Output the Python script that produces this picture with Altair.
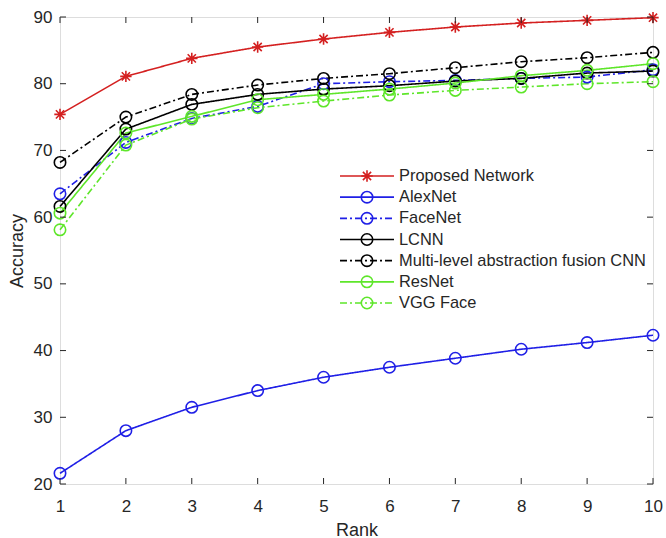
import altair as alt
import pandas as pd

ranks = [1, 2, 3, 4, 5, 6, 7, 8, 9, 10]
series = ["Proposed Network", "AlexNet", "FaceNet", "LCNN",
          "Multi-level abstraction fusion CNN", "ResNet", "VGG Face"]
proposed = [75.4, 81.1, 83.8, 85.5, 86.7, 87.7, 88.5, 89.1, 89.5, 89.9]
alexnet = [21.6, 28.0, 31.5, 34.0, 36.0, 37.5, 38.85, 40.2, 41.2, 42.3]
facenet = [63.5, 71.2, 74.8, 76.6, 80.0, 80.3, 80.5, 80.8, 81.0, 82.1]
lcnn = [61.6, 73.2, 76.9, 78.4, 79.2, 79.7, 80.4, 80.8, 81.6, 81.9]
multi = [68.2, 75.0, 78.4, 79.8, 80.8, 81.5, 82.4, 83.3, 83.9, 84.7]
resnet = [60.6, 72.6, 75.1, 77.6, 78.4, 79.2, 80.1, 81.2, 82.0, 83.0]
vgg = [58.1, 70.8, 74.7, 76.4, 77.4, 78.3, 79.0, 79.5, 80.0, 80.3]
yticks = [20, 30, 40, 50, 60, 70, 80, 90]

all_vals = [proposed, alexnet, facenet, lcnn, multi, resnet, vgg]
rows = []
for name, vals in zip(series, all_vals):
    for r, v in zip(ranks, vals):
        rows.append({"Series": name, "Rank": r, "Accuracy": v})
df = pd.DataFrame(rows)
leg_df = pd.DataFrame({"Series": series})
xt_df = pd.DataFrame({"Rank": ranks})
yt_df = pd.DataFrame({"Accuracy": yticks})

RED, BLUE, BLACK, GREEN = "#D42020", "#1F1FE6", "#000000", "#5EE62A"
colors = [RED, BLUE, BLUE, BLACK, BLACK, GREEN, GREEN]
DASHDOT = [7, 3, 2, 3]
dashes = [[1, 0], [1, 0], DASHDOT, [1, 0], DASHDOT, [1, 0], DASHDOT]
STAR = "M0,-1L0,1M-1,0L1,0M-0.72,-0.72L0.72,0.72M-0.72,0.72L0.72,-0.72"
shapes = [STAR, "circle", "circle", "circle", "circle", "circle", "circle"]

FONT = "Liberation Sans"
AX = "#262626"
W, H = 593, 467

color_enc = alt.Color("Series:N", scale=alt.Scale(domain=series, range=colors), legend=None)
dash_enc = alt.StrokeDash("Series:N", scale=alt.Scale(domain=series, range=dashes), legend=None)
shape_enc = alt.Shape("Series:N", scale=alt.Scale(domain=series, range=shapes), legend=None)

xscale = alt.Scale(domain=[1, 10], nice=False, zero=False)
yscale = alt.Scale(domain=[20, 90], nice=False, zero=False)

x_axis = alt.Axis(
    values=ranks, format="d", ticks=False, domain=False, grid=False,
    labelFont=FONT, labelFontSize=17, labelColor=AX, labelPadding=14,
    labelFlush=False,
    title="Rank", titleFont=FONT, titleFontSize=18, titleFontWeight="normal",
    titleColor=AX, titleBaseline="alphabetic", titleY=51)
y_axis = alt.Axis(
    values=yticks, format="d", ticks=False, domain=False, grid=False,
    labelFont=FONT, labelFontSize=17, labelColor=AX, labelPadding=8,
    title="Accuracy", titleFont=FONT, titleFontSize=18, titleFontWeight="normal",
    titleColor=AX, titlePadding=7)
x_enc = alt.X("Rank:Q", scale=xscale, axis=x_axis)
y_enc = alt.Y("Accuracy:Q", scale=yscale, axis=y_axis)

base = alt.Chart(df)
lines = base.mark_line(strokeWidth=1.6).encode(
    x=x_enc, y=y_enc, color=color_enc, strokeDash=dash_enc, detail="Series:N")
points = base.mark_point(filled=False, size=130, strokeWidth=1.6, opacity=1).encode(
    x=x_enc, y=y_enc, color=color_enc, shape=shape_enc)

tick_style = dict(color=AX, strokeWidth=1)
xt_bottom = alt.Chart(xt_df).mark_rule(**tick_style).encode(
    x=x_enc, y=alt.value(H), y2=alt.value(H - 6))
xt_top = alt.Chart(xt_df).mark_rule(**tick_style).encode(
    x=x_enc, y=alt.value(0), y2=alt.value(6))
yt_left = alt.Chart(yt_df).mark_rule(**tick_style).encode(
    y=y_enc, x=alt.value(0), x2=alt.value(6))
yt_right = alt.Chart(yt_df).mark_rule(**tick_style).encode(
    y=y_enc, x=alt.value(W - 6), x2=alt.value(W))

main = alt.layer(lines, points, xt_bottom, xt_top, yt_left, yt_right)

leg_y = alt.Y("Series:N", scale=alt.Scale(type="point", domain=series,
                                          range=[159, 286], padding=0), axis=None)
leg_base = alt.Chart(leg_df)
leg_lines = leg_base.mark_rule(strokeWidth=1.6).encode(
    x=alt.value(280), x2=alt.value(334), y=leg_y, color=color_enc, strokeDash=dash_enc)
leg_pts = leg_base.mark_point(filled=False, size=130, strokeWidth=1.6, opacity=1).encode(
    x=alt.value(307), y=leg_y, color=color_enc, shape=shape_enc)
leg_text = leg_base.mark_text(align="left", baseline="middle", font=FONT,
                              fontSize=16.4, color=AX).encode(
    x=alt.value(339), y=leg_y, text="Series:N")
legend = alt.layer(leg_lines, leg_pts, leg_text)

chart = alt.layer(main, legend).resolve_scale(y="independent").properties(
    width=W, height=H,
    autosize=alt.AutoSizeParams(type="none"),
    padding={"left": 60, "top": 17, "right": 13, "bottom": 54},
).configure_view(stroke=AX, strokeWidth=1).configure(background="white")

chart.save("out.html", embed_options={"renderer": "svg", "actions": False})
